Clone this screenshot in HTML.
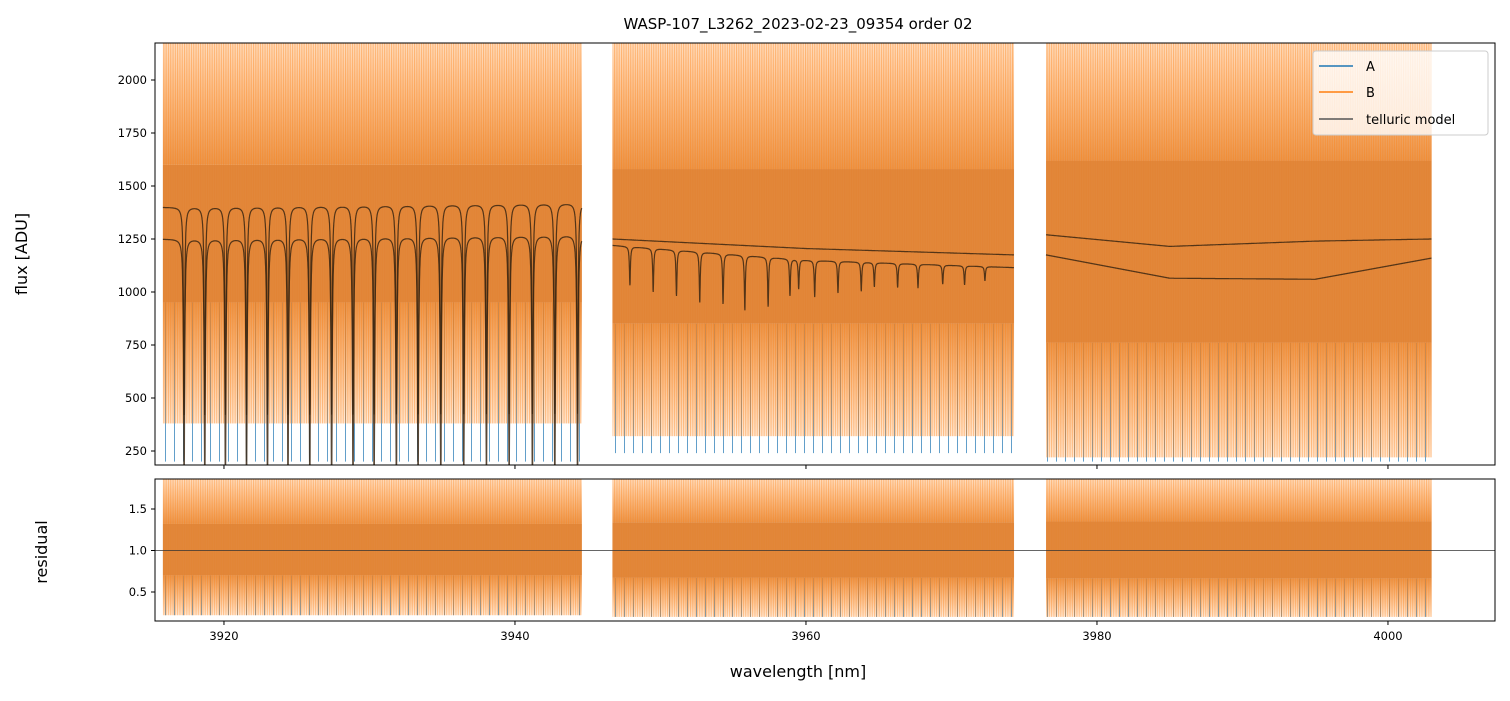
<!DOCTYPE html>
<html><head><meta charset="utf-8"><style>
body{margin:0;background:#fff;font-family:"Liberation Sans","DejaVu Sans",sans-serif}
svg text{font-family:"DejaVu Sans","Liberation Sans",sans-serif;fill:#000}
</style></head><body>
<svg id="c" width="1510" height="696" xmlns="http://www.w3.org/2000/svg">
<defs>
<pattern id="hatchO" width="2.3" height="40" patternUnits="userSpaceOnUse"><rect x="0" y="0" width="1.1" height="40" fill="#ff7f0e" opacity="0.7"/></pattern>
<pattern id="hatchB" width="9" height="40" patternUnits="userSpaceOnUse"><rect x="3" y="0" width="1" height="40" fill="#1f77b4" opacity="0.7"/></pattern>
<linearGradient id="fadeUp" x1="0" y1="0" x2="0" y2="1"><stop offset="0" stop-color="#ff7f0e" stop-opacity="0.25"/><stop offset="1" stop-color="#e4832f" stop-opacity="0.85"/></linearGradient>
<linearGradient id="fadeDown" x1="0" y1="0" x2="0" y2="1"><stop offset="0" stop-color="#e4832f" stop-opacity="0.85"/><stop offset="1" stop-color="#ff7f0e" stop-opacity="0.15"/></linearGradient>
<clipPath id="clipTop"><rect x="155" y="43" width="1340" height="422"/></clipPath>
<clipPath id="clipBot"><rect x="155" y="479" width="1340" height="142"/></clipPath>
</defs>
<text x="798" y="29" text-anchor="middle" font-size="15">WASP-107_L3262_2023-02-23_09354  order 02</text>
<g id="topPanel" clip-path="url(#clipTop)"></g>
<g id="botPanel" clip-path="url(#clipBot)"></g>
<g id="axesG"></g>
</svg>
<script>
const NS="http://www.w3.org/2000/svg";
// ---- data ----
const segments=[[3915.8,3944.6],[3946.7,3974.3],[3976.5,4003.0]];
const outerLo=[380,320,220];
const outerHi=[2174,2174,2174];
const coreLo=[950,850,760];
const coreHi=[1600,1580,1620];
const blueLo=[200,240,200];
const resOuterLo=[0.22,0.2,0.2];
const resOuterHi=[1.86,1.86,1.86];
const resCoreLo=[0.7,0.67,0.66];
const resCoreHi=[1.32,1.34,1.35];
const contUpperKnots=[[3915.8,3944.6],[3946.7,3960,3974.3],[3976.5,3985,3995,4003]];
const contUpperVals=[[1400,1420],[1250,1205,1175],[1270,1215,1240,1250]];
const contLowerKnots=[[3915.8,3944.6],[3946.7,3960,3974.3],[3976.5,3985,3995,4003]];
const contLowerVals=[[1250,1270],[1220,1150,1115],[1175,1065,1060,1160]];
const dips1=[3917.26,3918.68,3920.1,3921.55,3922.99,3924.4,3925.9,3927.4,3928.87,3930.32,3931.85,3933.34,3934.9,3936.48,3938.04,3939.6,3941.2,3942.74,3944.3];
const dips2=[3947.9,3949.5,3951.1,3952.7,3954.3,3955.8,3957.4,3958.9,3959.5,3960.6,3962.2,3963.8,3964.7,3966.3,3967.7,3969.4,3970.9,3972.3];
const dips2Depth=[0.15,0.17,0.18,0.2,0.2,0.22,0.2,0.15,0.12,0.15,0.13,0.12,0.1,0.1,0.1,0.08,0.08,0.06];
const xTicks=[3920,3940,3960,3980,4000];
const yTicks=[250,500,750,1000,1250,1500,1750,2000];
const rTicks=[0.5,1.0,1.5];
// ---- scales ----
const X=w=>155+(w-3915.26)*14.55;
const Y=v=>80+(2000-v)*0.212;
const R=v=>550.5-(v-1)*83;
function el(p,t,a,name){const e=document.createElementNS(NS,t);for(const k in a)e.setAttribute(k,a[k]);


p.appendChild(e);return e;}
function interp(ks,vs,w){for(let i=0;i<ks.length-1;i++){if(w<=ks[i+1]){const t=(w-ks[i])/(ks[i+1]-ks[i]);return vs[i]+t*(vs[i+1]-vs[i]);}}return vs[vs.length-1];}
const topG=document.getElementById('topPanel'),botG=document.getElementById('botPanel'),axG=document.getElementById('axesG');
function band(p,x0,x1,y0,y1,fill,op,name){el(p,'rect',{x:X(x0),y:Math.min(y0,y1),width:X(x1)-X(x0),height:Math.abs(y1-y0),fill:fill,opacity:op},name);}
segments.forEach((s,i)=>{
 band(topG,s[0],s[1],Y(coreLo[i]),Y(blueLo[i]),'url(#hatchB)',1,'series-a-spikes');
 band(topG,s[0],s[1],Y(outerHi[i]),Y(coreHi[i]),'url(#fadeUp)',1,'series-b-upper-noise');
 band(topG,s[0],s[1],Y(coreLo[i]),Y(outerLo[i]),'url(#fadeDown)',1,'series-b-lower-noise');
 band(topG,s[0],s[1],Y(outerHi[i]),Y(outerLo[i]),'url(#hatchO)',0.6,'series-b-spikes');
 band(topG,s[0],s[1],Y(coreHi[i]),Y(coreLo[i]),'#e0812f',0.95,'series-b-core');
 band(botG,s[0],s[1],R(resCoreLo[i]),R(resOuterLo[i]),'url(#hatchB)',1,'residual-a-spikes');
 band(botG,s[0],s[1],R(resOuterHi[i]),R(resCoreHi[i]),'url(#fadeUp)',1,'residual-upper-noise');
 band(botG,s[0],s[1],R(resCoreLo[i]),R(resOuterLo[i]),'url(#fadeDown)',1,'residual-lower-noise');
 band(botG,s[0],s[1],R(resOuterHi[i]),R(resOuterLo[i]),'url(#hatchO)',0.55,'residual-b-spikes');
 band(botG,s[0],s[1],R(resCoreHi[i]),R(resCoreLo[i]),'#e0812f',0.95,'residual-core');
 [[contUpperKnots,contUpperVals,0.7,0],[contLowerKnots,contLowerVals,0.97,1]].forEach(([ks,vs,d1,which])=>{
  let pts=[];
  for(let w=s[0];w<=s[1];w+=0.01){
   let v=interp(ks[i],vs[i],w),f=1;
   if(i===0){dips1.forEach(c=>{const z=(w-c)/0.045;f*=1-d1/(1+z*z);});}
   if(i===1&&which===1){dips2.forEach((c,j)=>{const z=(w-c)/0.04;f*=1-dips2Depth[j]/(1+z*z);});}
   pts.push(X(w).toFixed(1)+','+Y(v*f).toFixed(1));
  }
  el(topG,'polyline',{points:pts.join(' '),fill:'none',stroke:'#3a2612',"stroke-width":1.2,opacity:0.85},'telluric-model-line');
 });
});
el(botG,'line',{x1:155,x2:1495,y1:R(1),y2:R(1),stroke:'#333',"stroke-width":0.8},'residual-unity-line');
el(axG,'rect',{x:155,y:43,width:1340,height:422,fill:'none',stroke:'#000',"stroke-width":1},'flux-axes-frame');
el(axG,'rect',{x:155,y:479,width:1340,height:142,fill:'none',stroke:'#000',"stroke-width":1},'residual-axes-frame');
xTicks.forEach(t=>{
 el(axG,'line',{x1:X(t),x2:X(t),y1:465,y2:469,stroke:'#000'},'x-tick-top');
 el(axG,'line',{x1:X(t),x2:X(t),y1:621,y2:625,stroke:'#000'},'x-tick');
 el(axG,'text',{x:X(t),y:640,"text-anchor":"middle","font-size":11.5},'x-tick-label').textContent=t;
});
yTicks.forEach(t=>{
 el(axG,'line',{x1:151,x2:155,y1:Y(t),y2:Y(t),stroke:'#000'},'y-tick');
 el(axG,'text',{x:147,y:Y(t)+4,"text-anchor":"end","font-size":11.5},'y-tick-label').textContent=t;
});
rTicks.forEach(t=>{
 el(axG,'line',{x1:151,x2:155,y1:R(t),y2:R(t),stroke:'#000'},'residual-tick');
 el(axG,'text',{x:147,y:R(t)+4,"text-anchor":"end","font-size":11.5},'residual-tick-label').textContent=t.toFixed(1);
});
</script>
<svg style="position:absolute;left:0;top:0" width="1510" height="696">
<text x="798" y="677" text-anchor="middle" font-size="16" font-family="DejaVu Sans,sans-serif">wavelength [nm]</text>
<text transform="translate(27,254) rotate(-90)" text-anchor="middle" font-size="16" font-family="DejaVu Sans,sans-serif">flux [ADU]</text>
<text transform="translate(47,552) rotate(-90)" text-anchor="middle" font-size="16" font-family="DejaVu Sans,sans-serif">residual</text>
<g>
<rect x="1313" y="51" width="175" height="84" rx="3" fill="#fff" fill-opacity="0.8" stroke="#ccc"/>
<line x1="1319" x2="1353" y1="66" y2="66" stroke="#1f77b4" stroke-width="1.5"/>
<text x="1366" y="71" font-size="13" font-family="DejaVu Sans,sans-serif">A</text>
<line x1="1319" x2="1353" y1="92" y2="92" stroke="#ff7f0e" stroke-width="1.5"/>
<text x="1366" y="97" font-size="13" font-family="DejaVu Sans,sans-serif">B</text>
<line x1="1319" x2="1353" y1="119" y2="119" stroke="#555" stroke-width="1.5"/>
<text x="1366" y="124" font-size="13" font-family="DejaVu Sans,sans-serif">telluric model</text>
</g>
</svg>
</body></html>
